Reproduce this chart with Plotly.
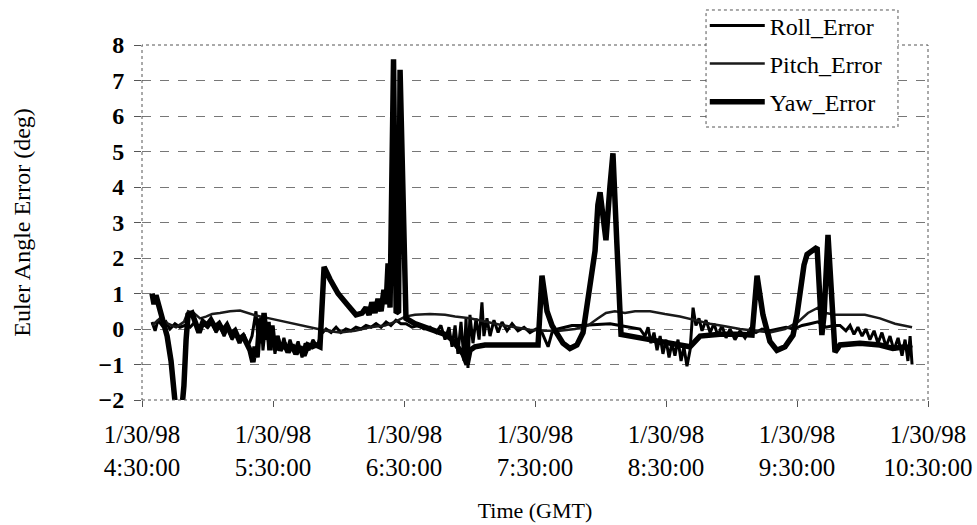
import plotly.graph_objects as go
import pandas as pd

# ---------------- data (minutes after 1/30/98 04:30:00 GMT, error in deg) ----------------
yaw_min = [4.6, 5.5, 6.4, 7.8, 9.6, 11.5, 13.3, 14.7, 16.0, 17.9, 19.2, 20.2, 21.1, 22.9, 24.7, 26.1,
           27.9, 29.8, 31.6, 33.4, 35.3, 37.1, 38.9, 40.8, 42.6, 44.4, 46.3, 48.1, 49.5, 50.8, 51.8,
           52.7, 54.0, 55.0, 55.9, 56.8, 57.7, 58.6, 59.5, 60.5, 61.8, 63.2, 65.0, 66.9, 68.7, 70.5,
           72.4, 74.2, 76.0, 77.9, 79.7, 81.5, 82.4, 83.4, 86.1, 89.8, 93.9, 98.0, 100.8, 102.6, 104.0,
           105.3, 106.7, 108.1, 109.5, 110.8, 111.8, 112.7, 113.6, 115.2, 116.4, 117.5, 118.2, 120.9,
           125.0, 129.6, 134.2, 138.8, 142.0, 144.7, 147.0, 148.9, 150.2, 152.5, 157.1, 164.0, 170.8,
           177.7, 181.4, 183.2, 185.5, 187.8, 190.1, 192.8, 196.0, 199.2, 202.0, 203.8, 206.1, 207.5,
           208.8, 209.8, 211.1, 212.5, 214.3, 215.7, 217.5, 219.4, 228.1, 237.2, 251.0, 255.6, 264.7,
           273.9, 279.4, 281.7, 284.4, 287.6, 290.8, 294.5, 298.2, 300.0, 301.4, 303.2, 304.6, 309.2,
           311.4, 312.4, 314.2, 317.4, 319.7, 328.8, 338.0, 343.9, 349.5, 352.7]
yaw_err = [1.0, 0.7, 0.95, 0.6, 0.2, -0.2, -0.9, -1.8, -2.6, -2.5, -1.6, -0.3, 0.4, 0.45, 0.1, -0.1,
           0.2, 0.1, 0.25, 0.05, 0.15, -0.05, 0.1, -0.15, -0.05, -0.3, -0.2, -0.45, -0.6, -0.93, -0.5,
           -0.8, 0.3, -0.4, 0.45, -0.3, 0.2, -0.6, 0.1, -0.5, -0.2, -0.6, -0.4, -0.65, -0.45, -0.7,
           -0.5, -0.75, -0.45, -0.5, -0.45, -0.5, 0.5, 1.75, 1.4, 1.0, 0.7, 0.4, 0.45, 0.6, 0.4,
           0.75, 0.45, 0.85, 0.5, 1.1, 0.7, 1.85, 0.6, 7.6, 0.45, 0.5, 7.3, 0.3,
           0.15, 0.05, -0.05, -0.15, -0.3, -0.5, -0.7, -1.0, -0.6, -0.5, -0.45, -0.45, -0.45,
           -0.45, -0.45, 1.5, 0.5, 0.1, -0.1, -0.4, -0.55, -0.45, -0.1, 0.6, 1.5, 2.2,
           3.5, 3.85, 3.2, 2.5, 4.0, 4.95, 2.4, -0.15, -0.25, -0.35, -0.5, -0.2, -0.15,
           -0.15, -0.17, 1.5, 0.4, -0.35, -0.6, -0.5, -0.17, 0.4, 1.1, 1.8, 2.1, 2.3,
           -0.17, 0.4, 2.65, -0.65, -0.45, -0.4, -0.45, -0.55, -0.5, -0.55]

roll_min = [4.6, 6.0, 7.3, 9.2, 11.0, 12.8, 15.1, 17.4, 19.7, 22.0, 24.3, 26.6, 28.4, 30.2, 32.1, 33.9,
            35.7, 37.6, 39.4, 41.2, 43.1, 44.9, 46.7, 48.5, 50.4, 52.2, 53.1, 54.5, 55.4, 56.8, 58.2,
            59.5, 60.9, 62.3, 63.7, 65.0, 66.4, 67.8, 69.6, 71.5, 73.3, 74.7, 76.5, 78.3, 80.2, 82.0,
            84.3, 86.6, 88.9, 91.1, 93.4, 95.7, 98.0, 100.3, 102.6, 104.9, 107.2, 109.5, 111.8, 114.0,
            116.3, 118.6, 120.9, 123.7, 126.4, 129.2, 131.9, 134.7, 136.9, 138.8, 140.6, 142.0, 143.4,
            144.7, 146.1, 147.5, 148.4, 149.3, 150.2, 151.6, 153.0, 154.4, 155.7, 156.6, 158.0, 159.4,
            161.2, 163.1, 164.9, 167.2, 169.5, 172.2, 175.0, 177.7, 180.5, 183.2, 186.0, 187.8, 190.5,
            193.7, 196.9, 200.6, 205.2, 209.8, 214.4, 218.9, 223.5, 228.1, 230.4, 231.8, 233.1, 234.5,
            235.9, 237.3, 238.6, 240.0, 241.4, 242.7, 244.1, 245.5, 246.9, 248.2, 249.6, 251.0, 252.4,
            253.7, 255.1, 256.5, 258.3, 260.2, 262.0, 263.8, 265.6, 267.5, 269.3, 271.6, 273.9, 276.2,
            278.5, 281.2, 284.0, 287.6, 291.3, 295.0, 298.6, 302.3, 306.0, 309.6, 313.3, 316.9, 319.7,
            322.4, 324.3, 326.1, 327.9, 329.8, 331.6, 333.4, 335.3, 337.1, 338.9, 340.8, 342.6, 344.4,
            346.3, 348.1, 349.5, 350.8, 351.8, 352.7]
roll_err = [0.2, -0.05, 0.25, 0.1, 0.2, 0.0, 0.15, 0.05, 0.1, 0.05, 0.2, 0.0, 0.15, 0.05, 0.2, -0.1,
            0.1, -0.2, 0.05, -0.3, -0.1, -0.4, -0.15, -0.5, -0.2, 0.5, -0.3, 0.35, -0.6, 0.2, -0.5,
            0.0, -0.7, -0.2, -0.55, -0.25, -0.6, -0.3, -0.65, -0.35, -0.8, -0.4, -0.6, -0.3, -0.5, -0.15,
            0.0, -0.1, 0.05, -0.1, 0.0, -0.05, 0.05, 0.0, 0.1, 0.05, 0.15, 0.05, 0.2, 0.1,
            0.25, 0.15, 0.15, 0.05, 0.1, 0.0, 0.05, -0.1, 0.1, -0.3, 0.05, -0.5, 0.1,
            -0.7, 0.2, -0.9, 0.3, -1.1, 0.4, -0.4, 0.3, -0.3, 0.75, -0.2, 0.3, -0.2,
            0.25, -0.1, 0.2, -0.05, 0.15, -0.05, 0.05, -0.1, 0.0, -0.1, -0.5, -0.1, 0.0,
            0.05, 0.1, 0.1, 0.12, 0.15, 0.15, 0.1, 0.05, 0.0, -0.2, 0.05, -0.4, -0.1,
            -0.6, -0.2, -0.7, -0.3, -0.8, -0.4, -0.75, -0.3, -0.9, -0.5, -1.05, -0.6, 0.6,
            0.1, 0.3, -0.05, 0.25, -0.1, 0.15, -0.2, 0.1, -0.25, 0.0, -0.3, -0.05, -0.25,
            0.0, -0.1, 0.0, -0.05, 0.0, 0.05, 0.0, 0.1, 0.15, 0.2, 0.05, 0.1, 0.1,
            -0.05, 0.1, -0.15, 0.05, -0.2, 0.0, -0.3, -0.05, -0.4, -0.1, -0.5, -0.2, -0.6,
            -0.25, -0.75, -0.3, -0.9, -0.2, -1.0]

pitch_min = [4.6, 8.2, 11.9, 15.6, 19.2, 21.1, 23.8, 26.6, 29.3, 32.1, 35.7, 40.3, 44.9, 48.5, 52.2,
             56.8, 62.3, 67.8, 73.3, 78.8, 84.3, 90.7, 97.6, 104.4, 111.3, 115.9, 120.5, 125.0, 131.9,
             138.8, 143.4, 150.2, 157.1, 164.0, 170.8, 177.7, 184.6, 191.5, 198.3, 204.3, 208.9, 212.5,
             216.6, 221.2, 225.8, 232.7, 239.5, 246.4, 253.3, 260.2, 267.0, 273.9, 280.8, 287.6, 294.5,
             300.5, 305.0, 309.6, 313.3, 317.4, 324.3, 331.1, 338.0, 344.9, 352.7]
pitch_err = [0.1, 0.3, 0.15, 0.05, 0.2, 0.5, 0.45, 0.3, 0.35, 0.42, 0.45, 0.5, 0.52, 0.45, 0.38,
             0.32, 0.25, 0.18, 0.1, 0.03, -0.05, -0.1, -0.05, 0.05, 0.1, 0.2, 0.35, 0.4, 0.42,
             0.4, 0.35, 0.3, 0.2, 0.12, 0.05, -0.02, -0.05, -0.05, 0.0, 0.1, 0.3, 0.45,
             0.5, 0.45, 0.5, 0.5, 0.42, 0.35, 0.25, 0.15, 0.08, 0.0, -0.05, -0.1, 0.0,
             0.2, 0.45, 0.6, 0.45, 0.4, 0.4, 0.4, 0.3, 0.15, 0.05]

tick_hours = ["04:30", "05:30", "06:30", "07:30", "08:30", "09:30", "10:30"]
tick_text = ["1/30/98<br>4:30:00", "1/30/98<br>5:30:00", "1/30/98<br>6:30:00", "1/30/98<br>7:30:00",
             "1/30/98<br>8:30:00", "1/30/98<br>9:30:00", "1/30/98<br>10:30:00"]

# ---------------- figure ----------------
base = pd.Timestamp("1998-01-30 04:30:00")


def to_time(mins):
    return base + pd.to_timedelta(mins, unit="m")


FONT = "Liberation Serif, Times New Roman, serif"

fig = go.Figure()
fig.add_trace(go.Scatter(x=to_time(roll_min), y=roll_err, mode="lines", name="Roll_Error",
                         legendgroup="r", line=dict(color="#000000", width=3)))
fig.add_trace(go.Scatter(x=to_time(pitch_min), y=pitch_err, mode="lines", name="Pitch_Error",
                         legendgroup="p", line=dict(color="#1a1a1a", width=2.5)))
fig.add_trace(go.Scatter(x=to_time(yaw_min), y=yaw_err, mode="lines", name="Yaw_Error",
                         legendgroup="y", line=dict(color="#000000", width=5.5)))

tickvals = [pd.Timestamp("1998-01-30 " + h) for h in tick_hours]

fig.update_layout(
    width=977, height=525,
    margin=dict(l=142, r=49, t=45, b=125, autoexpand=False),
    paper_bgcolor="white", plot_bgcolor="white",
    font=dict(family=FONT, color="black", size=24),
    showlegend=True,
    legend=dict(x=0.716, y=1.1175, xanchor="left", yanchor="top",
                bgcolor="rgba(0,0,0,0)", borderwidth=0,
                font=dict(family=FONT, size=24, color="black"),
                traceorder="grouped", tracegroupgap=4, itemwidth=55),
    xaxis=dict(type="date", range=[tickvals[0], tickvals[-1]],
               tickmode="array", tickvals=tickvals, ticktext=tick_text,
               ticks="outside", ticklen=6, tickcolor="#555", tickwidth=1,
               showgrid=False, zeroline=False, showline=False, automargin=False,
               ticklabelstandoff=6, ticklabeloverflow="allow",
               tickfont=dict(family=FONT, size=25, color="black"),
               title=dict(text="Time (GMT)", font=dict(family=FONT, size=22, color="black"),
                          standoff=23)),
    yaxis=dict(range=[-2, 8], dtick=1, tick0=0,
               ticks="outside", ticklen=7, tickcolor="#555", tickwidth=1,
               showgrid=True, gridcolor="#777", griddash="dash", gridwidth=1,
               zeroline=False, showline=False, ticklabelstandoff=5, automargin=False,
               tickfont=dict(family=FONT, size=24, color="black", weight="bold"),
               title=dict(text="Euler Angle Error (deg)", font=dict(family=FONT, size=24, color="black"),
                          standoff=61)),
    shapes=[
        dict(type="rect", xref="paper", yref="paper", x0=0, y0=0, x1=1, y1=1,
             line=dict(color="#555", width=1, dash="dot"), layer="above"),
        dict(type="rect", xref="paper", yref="paper", x0=0.7176, y0=0.769, x1=0.9618, y1=1.0986,
             line=dict(color="#555", width=1, dash="dot"), fillcolor="white", layer="above"),
    ],
)

# remove the browser's default page margin so the 977x525 figure fills the window exactly
fig.write_html("out.html",
               config={"displayModeBar": False},
               post_script="document.body.style.margin='0';document.body.style.overflow='hidden';")
